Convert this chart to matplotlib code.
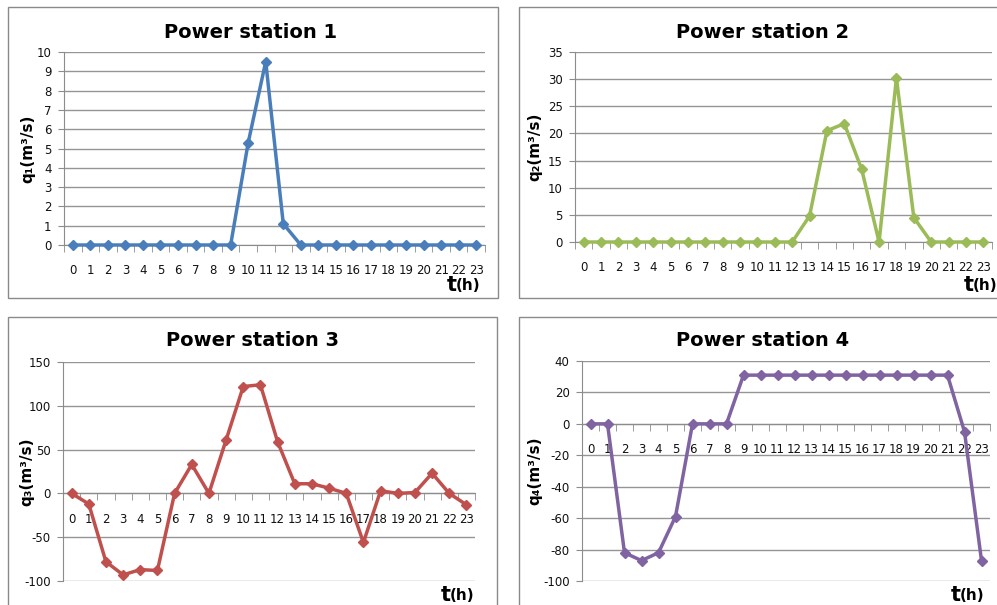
import matplotlib
matplotlib.use("Agg")
import matplotlib.pyplot as plt
from matplotlib.patches import Rectangle
import numpy as np

plt.rcParams["axes.unicode_minus"] = False

hours = list(range(24))

q1 = [0, 0, 0, 0, 0, 0, 0, 0, 0, 0, 5.3, 9.5, 1.1, 0, 0, 0, 0, 0, 0, 0, 0, 0, 0, 0]
q2 = [0, 0, 0, 0, 0, 0, 0, 0, 0, 0, 0, 0, 0, 4.8, 20.5, 21.8, 13.4, 0, 30.2, 4.5, 0, 0, 0, 0]
q3 = [0, -12, -78, -93, -87, -88, 0, 33, 0, 61, 122, 124, 59, 11, 11, 6, 0, -56, 3, 0, 1, 23, 0, -13]
q4 = [0, 0, -82, -87, -82, -59, 0, 0, 0, 31, 31, 31, 31, 31, 31, 31, 31, 31, 31, 31, 31, 31, -5, -87]

titles = ["Power station 1", "Power station 2", "Power station 3", "Power station 4"]
ylabels = ["q\u2081(m\u00b3/s)", "q\u2082(m\u00b3/s)", "q\u2083(m\u00b3/s)", "q\u2084(m\u00b3/s)"]
colors = ["#4a7ebb", "#9bbb59", "#c0504d", "#8064a2"]
ylims = [(0, 10), (0, 35), (-100, 150), (-100, 40)]
ysteps = [1, 5, 50, 20]

W, H = 997, 605
fig = plt.figure(figsize=(W / 100, H / 100), dpi=100)

def fx(x):
    return x / W

def fy(y):
    return 1 - y / H

# pixel layout: axes (left, right, top, bottom), box (x0, y0, x1, y1), title centre, ylabel x, t(h) position
layout = [
    dict(ax=(64, 485, 52, 245), box=(8, 7, 498, 298), tc=(251, 32), lx=28, th=(447, 285)),
    dict(ax=(575, 992, 52, 242), box=(519, 7, 1010, 298), tc=(763, 32), lx=535, th=(964, 285)),
    dict(ax=(63, 475, 362, 581), box=(8, 317, 497, 620), tc=(252, 341), lx=27, th=(441, 595)),
    dict(ax=(582, 990, 361, 581), box=(519, 317, 1010, 620), tc=(763, 341), lx=535, th=(951, 595)),
]

data = [q1, q2, q3, q4]

for i in range(4):
    L = layout[i]
    x0, y0, x1, y1 = L["box"]
    fig.patches.append(Rectangle((fx(x0), fy(y1)), fx(x1 - x0), (y1 - y0) / H,
                                 transform=fig.transFigure, fill=False,
                                 edgecolor="#8a8a8a", linewidth=1.0, zorder=0))
    l, r, t, b = L["ax"]
    ax = fig.add_axes([fx(l), fy(b), fx(r - l), (b - t) / H])
    ax.plot(hours, data[i], color=colors[i], linewidth=2.5, marker="D",
            markersize=5.5, clip_on=False, zorder=3)
    ax.set_xlim(-0.5, 23.5)
    ax.set_ylim(*ylims[i])
    ax.set_yticks(np.arange(ylims[i][0], ylims[i][1] + 0.01, ysteps[i]))
    ax.yaxis.grid(True, color="#959595", linewidth=1.0)
    ax.set_axisbelow(True)
    for s in ["top", "right"]:
        ax.spines[s].set_visible(False)
    ax.spines["left"].set_color("#8c8c8c")
    ax.spines["bottom"].set_color("#8c8c8c")
    ax.spines["bottom"].set_position(("data", 0))
    ax.set_xticks(hours)
    ax.set_xticklabels([str(h) for h in hours])
    ax.set_xticks(np.arange(-0.5, 24, 1), minor=True)
    ax.tick_params(axis="x", which="major", length=0, pad=14, labelsize=8.5, labelcolor="#111111")
    ax.tick_params(axis="x", which="minor", length=5, direction="out", color="#8c8c8c")
    ax.tick_params(axis="y", length=4, direction="out", color="#8c8c8c", pad=5,
                   labelsize=8.5, labelcolor="#111111")
    cx, cy = L["tc"]
    fig.text(fx(cx), fy(cy), titles[i], ha="center", va="center",
             fontsize=14, fontweight="bold")
    fig.text(fx(L["lx"]), fy((t + b) / 2), ylabels[i], rotation=90, ha="center",
             va="center", fontsize=11, fontweight="bold")
    tx, ty = L["th"]
    fig.text(fx(tx), fy(ty), "t", ha="left", va="center", fontsize=15, fontweight="bold")
    fig.text(fx(tx + 9), fy(ty + 1), "(h)", ha="left", va="center", fontsize=11, fontweight="bold")

fig.savefig("out.png", dpi=100)
